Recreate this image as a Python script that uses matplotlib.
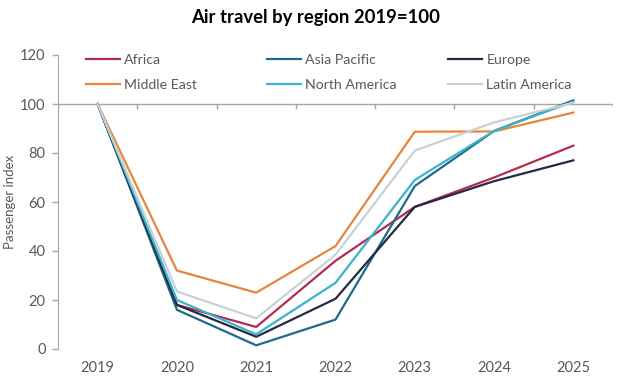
import matplotlib.pyplot as plt

years = ["2019", "2020", "2021", "2022", "2023", "2024", "2025"]

africa = [100, 18, 9, 36, 58, 70, 83]
asia_pacific = [100, 16, 1.5, 12, 66.5, 89, 101.5]
europe = [100, 18, 5, 20.5, 58, 68.5, 77]
middle_east = [100, 32, 23, 42, 88.7, 88.8, 96.5]
north_america = [100, 20, 6, 27, 69, 89, 101]
latin_america = [100, 23.5, 12.5, 38.5, 81, 92.5, 100.5]

names = ["Africa", "Asia Pacific", "Europe", "Middle East", "North America", "Latin America"]
series = [africa, asia_pacific, europe, middle_east, north_america, latin_america]
colors = ["#b52a4f", "#1d6a8c", "#262844", "#e8843c", "#3bb3cb", "#c9d1d4"]

plt.rcParams['font.family'] = ['Lato', 'DejaVu Sans']
grey = "#595959"
axis_grey = "#a6a6a6"

fig = plt.figure(figsize=(6.24, 3.81), dpi=100)
ax = fig.add_axes([58 / 624, 1 - 349 / 381, (613 - 58) / 624, (349 - 55) / 381])

x = list(range(len(years)))
lines = {}
for name, vals, c in zip(names, series, colors):
    lines[name], = ax.plot(x, vals, color=c, lw=1.6, label=name)

ax.set_xlim(-0.5, len(years) - 0.5)
ax.set_ylim(0, 120)
ax.set_yticks(range(0, 121, 20))

# category axis crosses at 100
ax.axhline(100, color=axis_grey, lw=1, zorder=0)
ax.vlines([i - 0.5 for i in range(len(years) + 1)], 98, 100, color=axis_grey, lw=1, zorder=0)

ax.set_xticks(x, years)
ax.tick_params(axis='x', length=0, pad=9, labelsize=10.5, colors=grey)
ax.tick_params(axis='y', length=4, width=1, color=axis_grey, labelsize=10.5, labelcolor=grey, pad=5)
for s in ['top', 'right', 'bottom']:
    ax.spines[s].set_visible(False)
ax.spines['left'].set_color(axis_grey)
ax.set_ylabel("Passenger index", color=grey, fontsize=9.5, labelpad=3)

# legend: three evenly spaced columns of two rows
columns = [("Africa", "Middle East"), ("Asia Pacific", "North America"), ("Europe", "Latin America")]
col_x = [86, 267, 448]
for cx, col in zip(col_x, columns):
    leg = fig.legend([lines[n] for n in col], col, frameon=False, loc='upper left',
                     bbox_to_anchor=(cx / 624, 1 - 54 / 381), borderaxespad=0, borderpad=0,
                     fontsize=10.2, handlelength=2.4, handletextpad=0.3,
                     labelspacing=0.95, labelcolor=grey)

fig.text(0.505, 0.953, "Air travel by region 2019=100", ha='center', va='center',
         fontsize=13.3, fontweight='bold', color='black')

plt.savefig("out.png", dpi=100)
plt.close()
